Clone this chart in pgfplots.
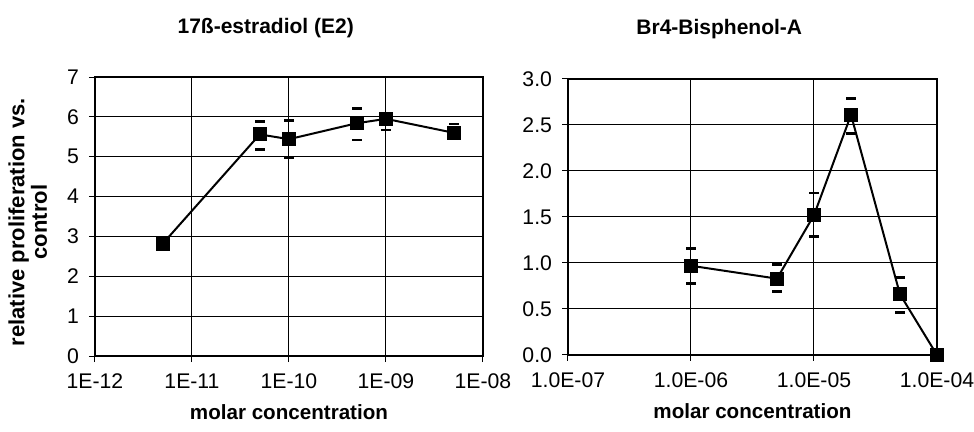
\documentclass[border=0pt]{standalone}
\usepackage{fontspec}
\setmainfont{Liberation Sans}
\usepackage{pgfplots}
\pgfplotsset{compat=1.18}
\pgfplotsset{
  bothpanels/.style={
    scale only axis,
    grid=major,
    major grid style={black, line width=0.5pt},
    axis line style={black, line width=0.9pt},
    tick align=outside,
    tick pos=left,
    tick style={black, line width=0.5pt},
    major tick length=3pt,
    xminorticks=false,
    clip=false,
    ticklabel style={font=\fontsize{10.6}{12}\selectfont},
    xticklabel style={yshift=-2.5pt},
    yticklabel style={xshift=-1.5pt},
    xlabel style={font=\bfseries\fontsize{10.3}{12}\selectfont, at={(axis description cs:0.5,0)}, anchor=center, yshift=-28pt},
    ylabel style={font=\bfseries\fontsize{11}{10}\selectfont, align=center},
    title style={font=\bfseries\fontsize{10.5}{12}\selectfont, anchor=center},
    xlabel={molar concentration},
  },
  dataline/.style={black, line width=1pt, mark=square*, mark size=3pt, mark options={solid, fill=black}},
  caps/.style={only marks, mark=-, mark size=2.4pt, mark options={black, line width=1.4pt}},
}
\begin{document}
\begin{tikzpicture}
\useasboundingbox (0pt,0pt) rectangle (487pt,-216pt);
% ---- left panel ----
\begin{axis}[bothpanels,
  xmode=log,
  /pgf/number format/assume math mode=true,
  at={(47.5pt,-178pt)}, anchor=south west,
  width=194pt, height=139.5pt,
  xmin=1e-12, xmax=1e-8, ymin=0, ymax=7,
  ytick={0,1,2,3,4,5,6,7},
  xtick={1e-12,1e-11,1e-10,1e-9,1e-8},
  xticklabels={1E-12,1E-11,1E-10,1E-09,1E-08},
  ylabel={relative proliferation vs.\\control},
  ylabel style={at={(axis description cs:-0.173,0.48)}, anchor=center},
  title={17ß-estradiol (E2)},
  title style={at={(axis description cs:0.44,1)}, yshift=18.5pt},
]
\addplot[dataline] coordinates {(5e-12,2.82) (5e-11,5.56) (1e-10,5.44) (5e-10,5.84) (1e-9,5.95) (5e-9,5.6)};
\addplot[caps] coordinates {(5e-11,5.88) (1e-10,5.90) (5e-10,6.20) (1e-9,6.08) (5e-9,5.82)
  (5e-11,5.19) (1e-10,4.98) (5e-10,5.42) (1e-9,5.67) (5e-9,5.46)};
\end{axis}
% ---- right panel ----
\begin{axis}[bothpanels,
  xmode=log,
  /pgf/number format/assume math mode=true,
  at={(284pt,-177.5pt)}, anchor=south west,
  width=184.5pt, height=138pt,
  xmin=1e-7, xmax=1e-4, ymin=0, ymax=3,
  ytick={0,0.5,1,1.5,2,2.5,3},
  yticklabel style={/pgf/number format/.cd, fixed, fixed zerofill, precision=1},
  xtick={1e-7,1e-6,1e-5,1e-4},
  xticklabels={1.0E-07,1.0E-06,1.0E-05,1.0E-04},
  title={Br4-Bisphenol-A},
  title style={at={(axis description cs:0.41,1)}, yshift=19pt},
]
\addplot[dataline] coordinates {(1e-6,0.97) (5e-6,0.83) (1e-5,1.52) (2e-5,2.61) (5e-5,0.66) (1e-4,0)};
\addplot[caps] coordinates {(1e-6,1.16) (5e-6,0.98) (1e-5,1.76) (2e-5,2.79) (5e-5,0.845)
  (1e-6,0.78) (5e-6,0.69) (1e-5,1.29) (2e-5,2.41) (5e-5,0.46)};
\end{axis}
\end{tikzpicture}
\end{document}
